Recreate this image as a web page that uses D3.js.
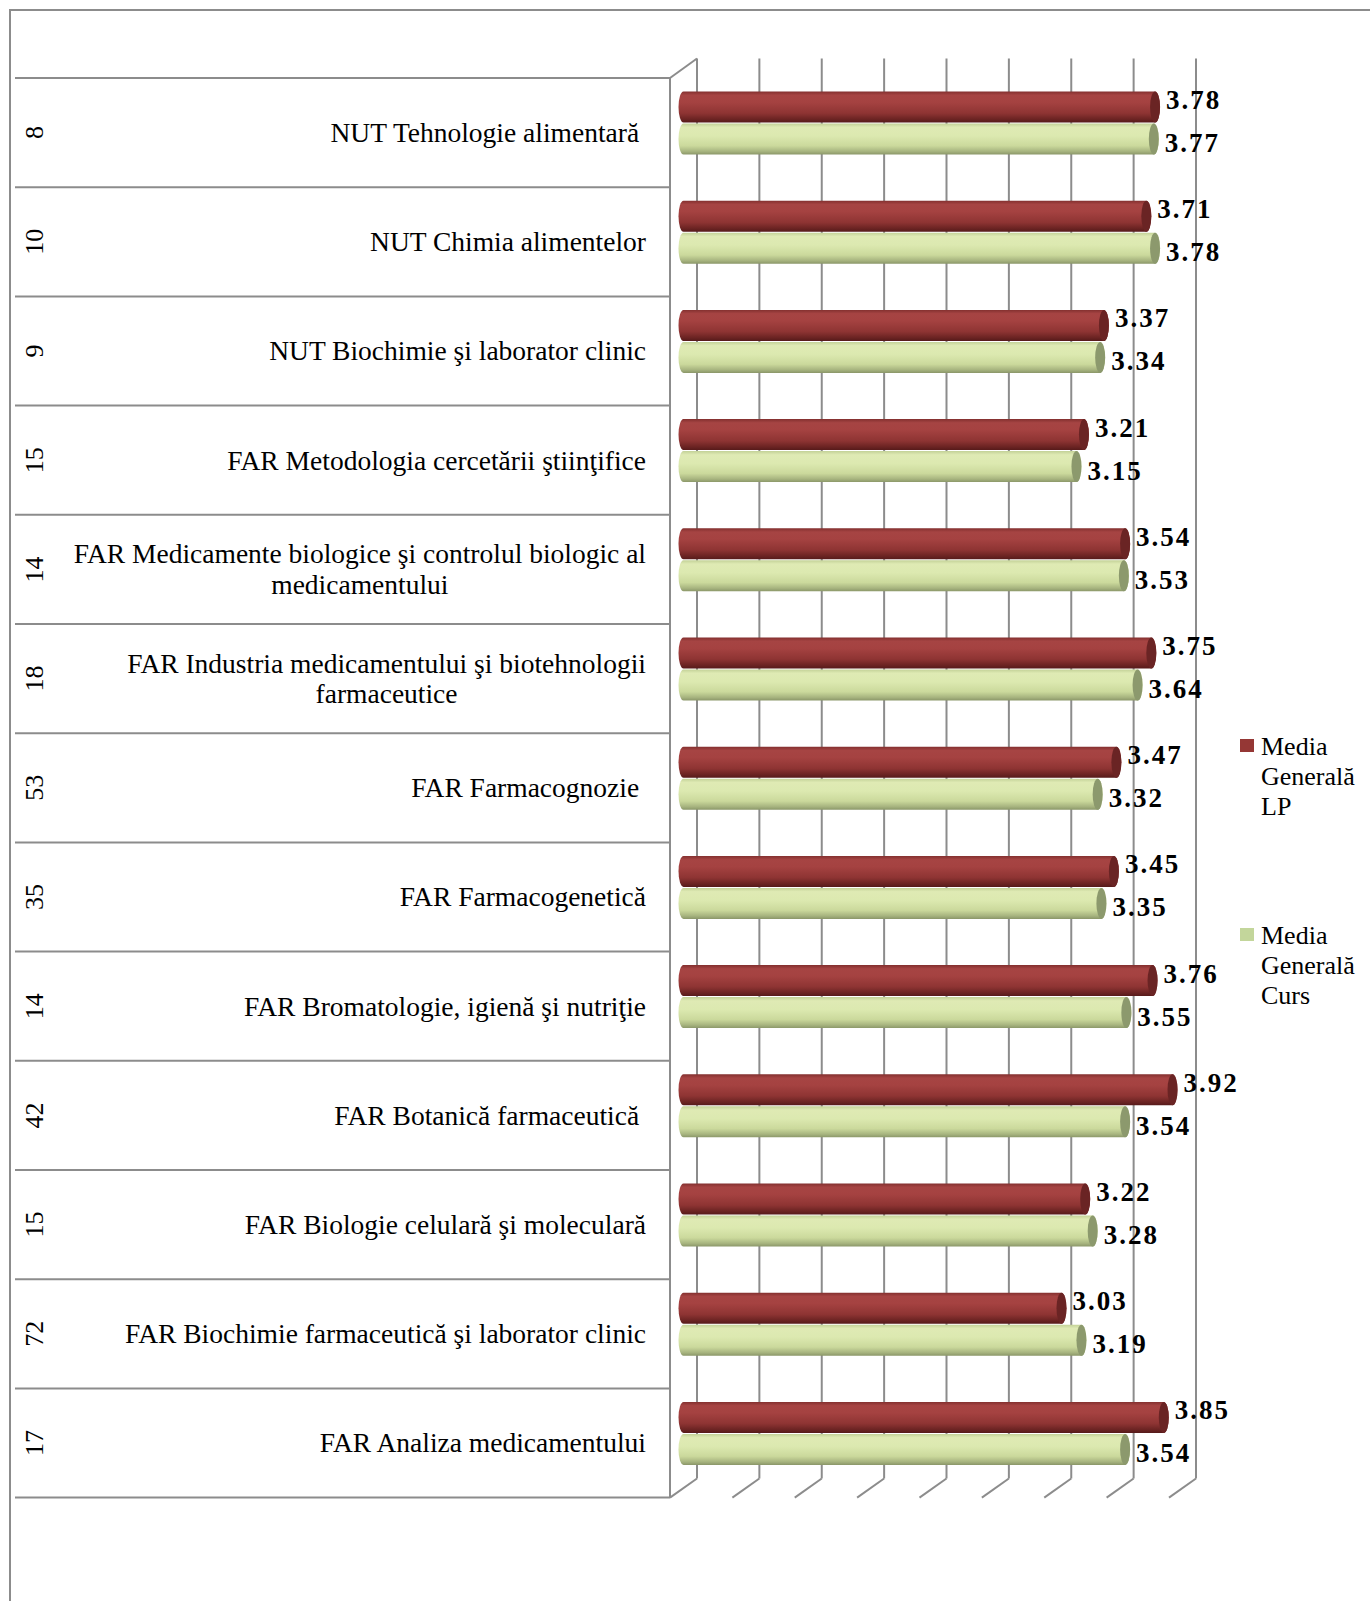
<!DOCTYPE html>
<html>
<head>
<meta charset="utf-8">
<script src="https://cdn.jsdelivr.net/npm/d3@7/dist/d3.min.js"></script>
<style>
  html, body { margin: 0; padding: 0; background: #fff; }
  svg { display: block; }
  text { font-family: "Liberation Serif", "Times New Roman", serif; }
</style>
</head>
<body>
<svg id="chart" width="1370" height="1601"></svg>
<script>
// ---------------- data ----------------
const counts = ["8", "10", "9", "15", "14", "18", "53", "35", "14", "42", "15", "72", "17"];
const categories = [
  ["NUT Tehnologie alimentară "],
  ["NUT Chimia alimentelor"],
  ["NUT Biochimie şi laborator clinic"],
  ["FAR Metodologia cercetării ştiinţifice"],
  ["FAR Medicamente biologice şi controlul biologic al", "medicamentului"],
  ["FAR Industria medicamentului şi biotehnologii", "farmaceutice"],
  ["FAR Farmacognozie "],
  ["FAR Farmacogenetică"],
  ["FAR Bromatologie, igienă şi nutriţie"],
  ["FAR Botanică farmaceutică "],
  ["FAR Biologie celulară şi moleculară"],
  ["FAR Biochimie farmaceutică şi laborator clinic"],
  ["FAR Analiza medicamentului"]
];
const mediaLP = [3.78, 3.71, 3.37, 3.21, 3.54, 3.75, 3.47, 3.45, 3.76, 3.92, 3.22, 3.03, 3.85];
const mediaCurs = [3.77, 3.78, 3.34, 3.15, 3.53, 3.64, 3.32, 3.35, 3.55, 3.54, 3.28, 3.19, 3.54];
const seriesNames = [["Media", "Generală", "LP"], ["Media", "Generală", "Curs"]];
const seriesKeys = ["lp", "curs"];
const axisDomain = [0, 4];

// ---------------- layout ----------------
const svg = d3.select("#chart");
const W = 1370, H = 1601;
const gridCol = "#8c8c8c";

const frontX0 = 670, backX0 = 697, midX0 = 683.5;
const frontTop = 78, frontBottom = 1497.6;
const backTop = 58.5, backBottom = 1478.5;

const x = d3.scaleLinear().domain(axisDomain).range([0, 499]);
const idx = d3.range(categories.length);
const y = d3.scaleBand().domain(idx).range([frontTop, frontBottom]).padding(0);
const inner = d3.scaleBand().domain(seriesKeys).range([13.5, 76.5]).paddingInner(0.03);

const rows = idx.map(i => ({ i, count: counts[i], lines: categories[i], lp: mediaLP[i], curs: mediaCurs[i] }));

// outer frame
svg.append("rect").attr("x", 10).attr("y", 10).attr("width", W + 20).attr("height", H + 20)
  .attr("fill", "none").attr("stroke", gridCol).attr("stroke-width", 2);

// gradients
const defs = svg.append("defs");
function grad(id, stops) {
  const g = defs.append("linearGradient").attr("id", id).attr("x1", 0).attr("y1", 0).attr("x2", 0).attr("y2", 1);
  stops.forEach(s => g.append("stop").attr("offset", s[0]).attr("stop-color", s[1]));
}
grad("gLP", [[0, "#83302f"], [0.12, "#a64443"], [0.35, "#a54241"], [0.7, "#8e3433"], [0.9, "#6a2322"], [1, "#561a1a"]]);
grad("gCurs", [[0, "#c3d197"], [0.12, "#dfeab4"], [0.4, "#dce9b0"], [0.72, "#cbd99c"], [0.9, "#a7b47f"], [1, "#8b9769"]]);
const capColor = { lp: "#6a2424", curs: "#8c996d" };
const fillId = { lp: "url(#gLP)", curs: "url(#gCurs)" };

// ---------------- gridlines (back wall + floor) ----------------
const ticks = x.ticks(8);
const grid = svg.append("g");
grid.selectAll("line.back").data(ticks).join("line")
  .attr("x1", d => backX0 + x(d)).attr("x2", d => backX0 + x(d))
  .attr("y1", backTop).attr("y2", backBottom)
  .attr("stroke", gridCol).attr("stroke-width", 2);
grid.selectAll("line.floor").data(ticks).join("line")
  .attr("x1", d => frontX0 + x(d)).attr("y1", frontBottom)
  .attr("x2", d => backX0 + x(d)).attr("y2", backBottom)
  .attr("stroke", gridCol).attr("stroke-width", 2);
// left wall
grid.append("line").attr("x1", frontX0).attr("x2", frontX0).attr("y1", frontTop).attr("y2", frontBottom)
  .attr("stroke", gridCol).attr("stroke-width", 2);
grid.append("line").attr("x1", frontX0).attr("y1", frontTop).attr("x2", backX0).attr("y2", backTop)
  .attr("stroke", gridCol).attr("stroke-width", 2);

// ---------------- table on the left ----------------
const table = svg.append("g");
table.selectAll("line").data(d3.range(categories.length + 1)).join("line")
  .attr("x1", 15).attr("x2", frontX0)
  .attr("y1", d => frontTop + d * y.step()).attr("y2", d => frontTop + d * y.step())
  .attr("stroke", gridCol).attr("stroke-width", 2);

// counts (rotated)
table.selectAll("text.count").data(rows).join("text")
  .attr("class", "count")
  .attr("transform", d => `translate(42.5,${y(d.i) + y.bandwidth() / 2}) rotate(-90)`)
  .attr("text-anchor", "middle")
  .attr("font-size", 26)
  .attr("fill", "#000")
  .text(d => d.count);

// category labels
const labelRight = 646;
const lineH = 30.6;
rows.forEach(d => {
  const g = table.append("g");
  const cy = y(d.i) + y.bandwidth() / 2;
  const n = d.lines.length;
  const texts = d.lines.map((ln, k) => g.append("text")
    .attr("font-size", 27.5).attr("fill", "#000")
    .attr("y", cy + 9.3 + (k - (n - 1) / 2) * lineH)
    .style("white-space", "pre")
    .text(ln));
  if (n === 1) {
    texts[0].attr("x", labelRight).attr("text-anchor", "end");
  } else {
    const wMax = d3.max(texts, t => t.node().getComputedTextLength());
    const c = labelRight - wMax / 2;
    texts.forEach(t => t.attr("x", c).attr("text-anchor", "middle"));
  }
});

// ---------------- bars (cylinders) ----------------
const rx = 5;
const bars = svg.append("g");
const barData = [];
rows.forEach(d => {
  seriesKeys.forEach(k => {
    barData.push({ i: d.i, key: k, value: d[k] });
  });
});
barData.forEach(b => {
  const top = y(b.i) + inner(b.key);
  const h = inner.bandwidth();
  const bot = top + h;
  const ry = h / 2;
  const x0 = midX0 + x(0);
  const x1 = midX0 + x(b.value);
  b.top = top; b.bot = bot; b.x1 = x1;
  const p = `M${x0},${top} L${x1},${top} A${rx},${ry} 0 0 1 ${x1},${bot} L${x0},${bot} A${rx},${ry} 0 0 1 ${x0},${top} Z`;
  bars.append("path").attr("d", p).attr("fill", fillId[b.key]);
  bars.append("ellipse").attr("cx", x1).attr("cy", top + ry).attr("rx", rx).attr("ry", ry)
    .attr("fill", capColor[b.key]);
});

// ---------------- value labels ----------------
svg.append("g").selectAll("text").data(barData).join("text")
  .attr("x", b => b.x1 + rx + 6)
  .attr("y", b => (b.top + b.bot) / 2 + (b.key === "lp" ? 2 : 13))
  .attr("font-size", 27)
  .attr("font-weight", "bold")
  .attr("letter-spacing", 2)
  .attr("fill", "#000")
  .text(b => d3.format(".2f")(b.value));

// ---------------- legend ----------------
const legendColors = { lp: "#953735", curs: "#c3d69b" };
const legendY = d3.scaleOrdinal().domain(seriesKeys).range([739, 928]);
const leg = svg.append("g");
seriesKeys.forEach((k, si) => {
  const y0 = legendY(k);
  leg.append("rect").attr("x", 1240).attr("y", y0).attr("width", 14).attr("height", 13).attr("fill", legendColors[k]);
  seriesNames[si].forEach((t, li) => {
    leg.append("text").attr("x", 1261).attr("y", y0 + 15.5 + li * 30)
      .attr("font-size", 26).attr("fill", "#000").text(t);
  });
});
</script>
</body>
</html>
